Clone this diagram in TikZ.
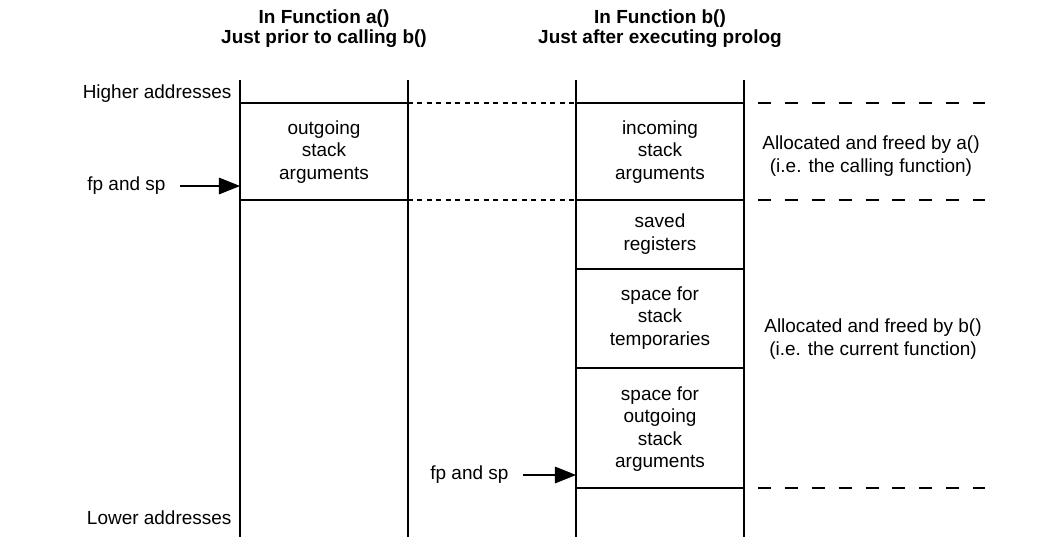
\documentclass[tikz,border=0pt]{standalone}
\usepackage{fontspec}
\setmainfont{Liberation Sans}
\usetikzlibrary{arrows.meta}

\begin{document}
\begin{tikzpicture}[x=0.02cm, y=-0.02cm, line width=0.6pt,
        font=\fontsize{10.8}{12.8}\selectfont,
        cell/.style={align=center, inner sep=0pt},
        title/.style={align=center, inner sep=0pt, font=\fontsize{10.8}{11.4}\selectfont\bfseries},
        shortdash/.style={dash pattern=on 2.8pt off 2.6pt},
        longdash/.style={dash pattern=on 7.4pt off 7.9pt},
        pointer/.style={-{Triangle[length=12pt, width=9.5pt]}, shorten <=8pt}]
        \useasboundingbox (0,0) rectangle (1059,555);
        % column titles
        \node[title] (titlea) at (324,29) {In Function a()\\Just prior to calling b()};
        \node[title] (titleb) at (660,29) {In Function b()\\Just after executing prolog};
        % stack walls
        \foreach \x in {240,408,576,744} {
            \draw (\x,80) -- (\x,537);
        }
        \foreach \y in {103,200} {
            \draw (240,\y) -- (408,\y);
            \draw[shortdash] (408,\y) -- (576,\y);
            \draw (576,\y) -- (744,\y);
        }
        \foreach \y in {269,368,488} {
            \draw (576,\y) -- (744,\y);
        }
        \foreach \y in {103,200,488} {
            \draw[longdash] (758,\y) -- (985,\y);
        }
        % frame contents
        \node[cell] (outa) at (324,152) {outgoing\\stack\\arguments};
        \node[cell] (inb) at (660,152) {incoming\\stack\\arguments};
        \node[cell] (savedb) at (660,234) {saved\\registers};
        \node[cell] (tempb) at (660,318) {space for\\stack\\temporaries};
        \node[cell] (outb) at (660,429) {space for\\outgoing\\stack\\arguments};
        \node[cell] (alloca) at (871,156) {Allocated and freed by a()\\(i.e. the calling function)};
        \node[cell] (allocb) at (873,339) {Allocated and freed by b()\\(i.e. the current function)};
        % addresses and pointers
        \node[cell, anchor=east] (higher) at (232,94) {Higher addresses};
        \node[cell, anchor=east] (lower) at (232,518) {Lower addresses};
        \node[cell, anchor=east] (fpa) at (166,186) {fp and sp};
        \node[cell, anchor=east] (fpb) at (509,475) {fp and sp};
        \coordinate (spa) at (240,186);
        \coordinate (spb) at (576,475);
        \draw[pointer] (fpa) -- (spa);
        \draw[pointer] (fpb) -- (spb);
    \end{tikzpicture}
\end{document}
